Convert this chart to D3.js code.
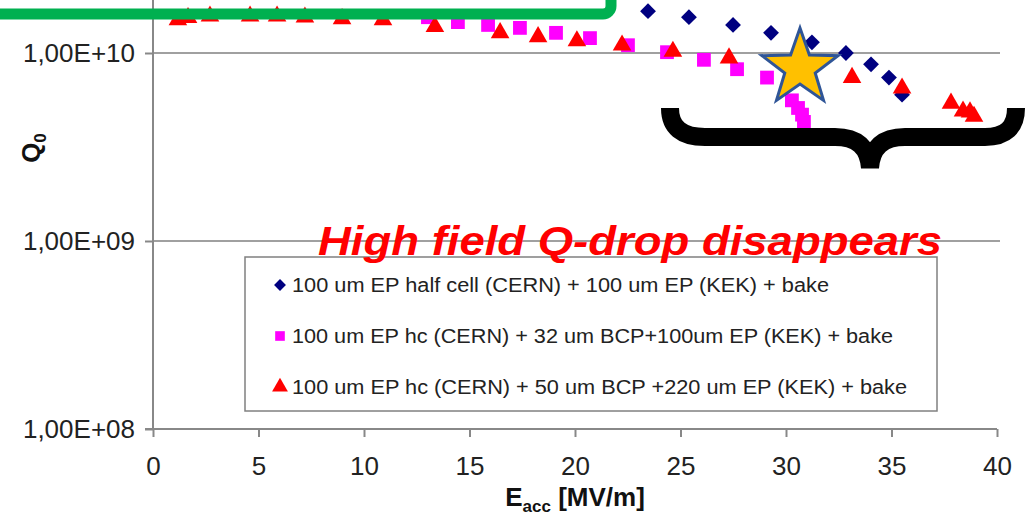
<!DOCTYPE html>
<html>
<head>
<meta charset="utf-8">
<script src="https://cdn.jsdelivr.net/npm/d3@7"></script>
<style>
  body { margin: 0; background: #fff; }
  svg { display: block; }
  text { font-family: "Liberation Sans", Arial, sans-serif; }
</style>
</head>
<body>
<div id="chart"></div>
<script>
// data: [Eacc MV/m, Q0]
let halfCell = [[23.46,1.67e10],[25.40,1.55e10],[27.49,1.41e10],[29.29,1.28e10],[31.23,1.14e10],
                [32.84,1.0e10],[34.03,8.7e9],[34.88,7.4e9],[35.50,6.0e9]];
let bcp32 = [[13.03,1.55e10],[14.45,1.46e10],[15.88,1.41e10],[17.39,1.36e10],[19.10,1.28e10],
             [20.71,1.20e10],[22.51,1.10e10],[24.36,1.01e10],[26.11,9.2e9],[27.68,8.2e9],
             [29.10,7.4e9],[30.28,5.6e9],[30.57,5.1e9],[30.76,4.7e9],[30.85,4.3e9]];
let bcp50 = [[1.18,1.50e10],[1.66,1.54e10],[2.70,1.57e10],[4.60,1.57e10],[5.88,1.57e10],
             [7.20,1.55e10],[8.96,1.52e10],[10.90,1.50e10],[13.36,1.38e10],[16.45,1.28e10],
             [18.25,1.22e10],[20.09,1.16e10],[22.23,1.10e10],[24.64,1.02e10],[27.30,9.4e9],
             [33.13,7.4e9],[35.50,6.5e9],[37.82,5.4e9],[38.39,4.9e9],[38.72,4.85e9],[38.91,4.6e9]];
let xTicks = [0,5,10,15,20,25,30,35,40];
let yTicks = [1e8,1e9,1e10];
let yLabels = ["1,00E+08","1,00E+09","1,00E+10"];
let legendLabels = ["100 um EP half cell (CERN) + 100 um EP (KEK) + bake",
                    "100 um EP hc (CERN) + 32 um BCP+100um EP (KEK) + bake",
                    "100 um EP hc (CERN) + 50 um BCP +220 um EP (KEK) + bake"];
let legendWidths = [537, 601, 615];
let note = "High field Q-drop disappears";

let W = 1025, H = 519;
let svg = d3.select("#chart").append("svg").attr("width", W).attr("height", H);

let x = d3.scaleLinear().domain([0, 40]).range([153, 997]);
let y = d3.scaleLog().domain([1e8, 1e11]).range([429, -135]);

// grid lines
svg.selectAll(".grid").data(yTicks.slice(1)).enter().append("line")
   .attr("x1", x(0)).attr("x2", 1000)
   .attr("y1", d => y(d)).attr("y2", d => y(d))
   .attr("stroke", "#a0a0a0").attr("stroke-width", 2);

// y axis
let yAxis = svg.append("g").attr("transform", "translate(" + x(0) + ",0)")
   .call(d3.axisLeft(y).tickValues(yTicks).tickSize(8).tickFormat((d, i) => yLabels[i]));
yAxis.select(".domain").attr("d", "M0,0V" + y(1e8)).attr("stroke", "#888").attr("stroke-width", 2);
yAxis.selectAll(".tick line").attr("stroke", "#888").attr("stroke-width", 2);
yAxis.selectAll(".tick text").attr("x", -18).attr("font-size", 26).attr("fill", "#222")
   .attr("font-family", "Liberation Sans, Arial, sans-serif");

// x axis
let xAxis = svg.append("g").attr("transform", "translate(0," + y(1e8) + ")")
   .call(d3.axisBottom(x).tickValues(xTicks).tickSize(8).tickSizeOuter(0));
xAxis.select(".domain").attr("d", "M" + (x(0) - 8) + ",0H" + x(40)).attr("stroke", "#888").attr("stroke-width", 2);
xAxis.selectAll(".tick line").attr("stroke", "#888").attr("stroke-width", 2);
xAxis.selectAll(".tick text").attr("y", 28).attr("font-size", 26).attr("fill", "#222")
   .attr("font-family", "Liberation Sans, Arial, sans-serif");

// axis titles
let xt = svg.append("text").attr("x", 575).attr("y", 506).attr("text-anchor", "middle")
   .attr("font-size", 26).attr("font-weight", "bold").attr("fill", "#111");
xt.append("tspan").text("E");
xt.append("tspan").attr("font-size", 17).attr("dy", 6).text("acc");
xt.append("tspan").attr("dy", -6).text(" [MV/m]");

let yt = svg.append("text").attr("transform", "translate(40,148) rotate(-90)").attr("text-anchor", "middle")
   .attr("font-size", 26).attr("font-weight", "bold").attr("fill", "#111");
yt.append("tspan").text("Q");
yt.append("tspan").attr("font-size", 17).attr("dy", 6).text("0");

// markers
let diamond = d3.symbol().type(d3.symbolSquare).size(125)();
let square = d3.symbol().type(d3.symbolSquare).size(190)();
let triangle = d3.symbol().type(d3.symbolTriangle).size(150)();

svg.selectAll(".s1").data(halfCell).enter().append("path")
   .attr("d", diamond).attr("fill", "#000080")
   .attr("transform", d => "translate(" + x(d[0]) + "," + y(d[1]) + ") rotate(45)");
svg.selectAll(".s2").data(bcp32).enter().append("path")
   .attr("d", square).attr("fill", "#ff00ff")
   .attr("transform", d => "translate(" + x(d[0]) + "," + y(d[1]) + ")");
svg.selectAll(".s3").data(bcp50).enter().append("path")
   .attr("d", triangle).attr("fill", "#ff0000")
   .attr("transform", d => "translate(" + x(d[0]) + "," + y(d[1]) + ")");

// legend
let lg = svg.append("g");
lg.append("rect").attr("x", 245).attr("y", 257).attr("width", 692).attr("height", 154)
  .attr("fill", "#fff").attr("stroke", "#808080").attr("stroke-width", 1.5);
let legendShapes = [[diamond, "#000080", 45, 0.75], [square, "#ff00ff", 0, 0.7], [triangle, "#ff0000", 0, 0.85]];
legendLabels.forEach((t, i) => {
  let cy = 285 + i * 51;
  let s = legendShapes[i];
  lg.append("path").attr("d", s[0]).attr("fill", s[1])
    .attr("transform", "translate(280," + cy + ") rotate(" + s[2] + ") scale(" + s[3] + ")");
  lg.append("text").attr("x", 292).attr("y", cy + 7).attr("font-size", 20).attr("fill", "#222")
    .attr("textLength", legendWidths[i]).attr("lengthAdjust", "spacingAndGlyphs").text(t);
});

// annotation text
svg.append("text").attr("x", 318).attr("y", 255).attr("font-size", 40)
   .attr("font-family", "DejaVu Sans, sans-serif").attr("font-style", "italic").attr("font-weight", "bold")
   .attr("fill", "#ff0000").attr("textLength", 624).attr("lengthAdjust", "spacingAndGlyphs")
   .text(note);

// star
let star = d3.range(10).map(i => {
  let a = i * Math.PI / 5, r = i % 2 ? 16 : 40;
  return [800 + r * Math.sin(a), 68 - r * Math.cos(a)];
});
svg.append("path").attr("d", d3.line()(star) + "Z")
   .attr("fill", "#ffc000").attr("stroke", "#2f5597").attr("stroke-width", 3).attr("stroke-linejoin", "miter");

// curly brace
svg.append("path")
   .attr("d", "M670,108 Q670,137 705,137 L835,137 Q868,137 870,168 Q872,137 905,137 L985,137 Q1016,137 1016,108")
   .attr("fill", "none").attr("stroke", "#000").attr("stroke-width", 18);

// green frame at top-left
svg.append("rect").attr("x", -20).attr("y", -40).attr("width", 631).attr("height", 54).attr("rx", 8)
   .attr("fill", "none").attr("stroke", "#00b050").attr("stroke-width", 11);
</script>
</body>
</html>
